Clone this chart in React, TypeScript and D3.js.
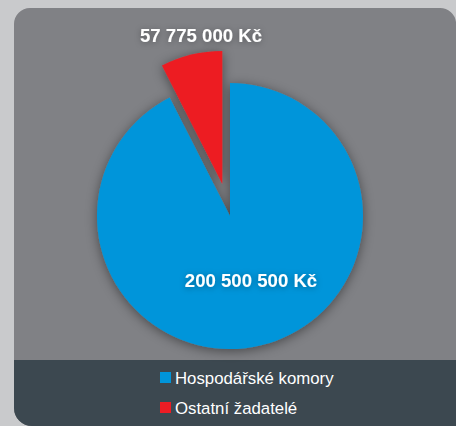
import React from "react";
import * as d3 from "d3";

const categories = ["Hospodářské komory", "Ostatní žadatelé"];
// shares (≈27° for the red slice)
const shares = [92.5, 7.5];
const valueLabels = ["200 500 500 Kč", "57 775 000 Kč"];
const colors = ["#0095da", "#ed1c24"];

export default function App() {
  const W = 456, H = 426;
  const cx = 230, cy = 216, r = 133;
  const explode = 33;
  const pie = d3.pie<number>().sort(null).startAngle(0).endAngle(2 * Math.PI);
  const arcs = pie(shares);
  const arcGen = d3.arc<d3.PieArcDatum<number>>().innerRadius(0).outerRadius(r);
  return (
    <svg width={W} height={H} style={{ position: "absolute", left: 0, top: 0 }}>
      <defs>
        <filter id="sh" x="-30%" y="-30%" width="160%" height="160%">
          <feDropShadow dx="0" dy="2" stdDeviation="6" floodColor="#000" floodOpacity="0.45" />
        </filter>
        <filter id="tsh" x="-20%" y="-50%" width="140%" height="200%">
          <feDropShadow dx="0" dy="1" stdDeviation="3" floodColor="#000" floodOpacity="0.35" />
        </filter>
        <clipPath id="panel">
          <path d="M14,24 A16,16 0 0 1 30,8 L440,8 A16,16 0 0 1 456,22 L456,426 L32,426 A18,18 0 0 1 14,408 Z" />
        </clipPath>
      </defs>
      <rect x={0} y={0} width={W} height={H} fill="#c9cacc" />
      <g clipPath="url(#panel)">
        <rect x={14} y={8} width={460} height={430} fill="#808185" />
        <rect x={14} y={360} width={460} height={80} fill="#3c4850" />
      </g>
      <g filter="url(#sh)">
        {arcs.map((a, i) => {
          const mid = (a.startAngle + a.endAngle) / 2;
          const off = i === 1 ? explode : 0;
          const tx = cx + Math.sin(mid) * off;
          const ty = cy - Math.cos(mid) * off;
          return (
            <path key={i} d={arcGen(a) || ""} fill={colors[i]} transform={`translate(${tx},${ty})`} />
          );
        })}
      </g>
      <g filter="url(#tsh)" fontFamily="Liberation Sans, Arial, sans-serif" fontWeight="bold" fontSize={18.6} fill="#fff" textAnchor="middle">
        <text x={201} y={42}>{valueLabels[1]}</text>
        <text x={251} y={287}>{valueLabels[0]}</text>
      </g>
      <g fontFamily="Liberation Sans, Arial, sans-serif" fontSize={16.8} fill="#fff">
        {categories.map((c, i) => (
          <g key={c} transform={`translate(160,${372 + i * 30})`}>
            <rect x={0} y={0} width={11} height={11} fill={colors[i]} />
            <text x={15} y={12.3}>{c}</text>
          </g>
        ))}
      </g>
    </svg>
  );
}
